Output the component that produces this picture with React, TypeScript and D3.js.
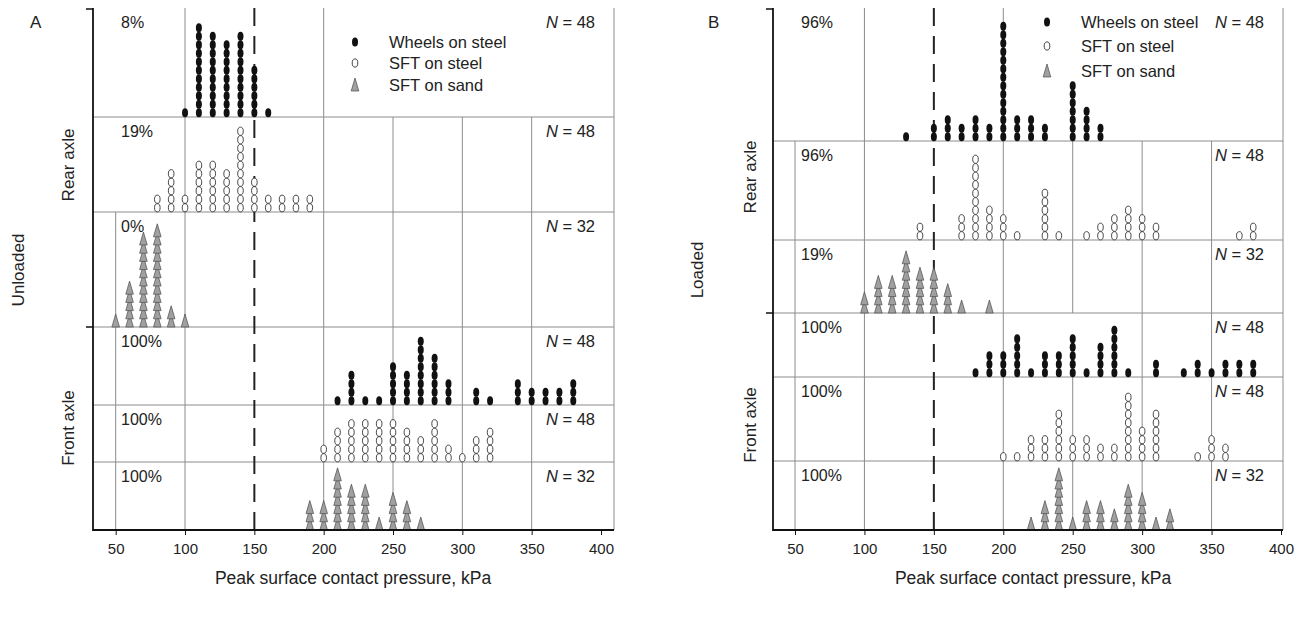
import React, { useEffect, useRef } from 'react';
import * as d3 from 'd3';

// [peak pressure kPa, number of tyres]
type Stack = [number, number][];

const unloadedRearWheels: Stack = [[100, 1], [110, 11], [120, 10], [130, 9], [140, 10], [150, 6], [160, 1]];
const unloadedRearSteel: Stack = [[80, 2], [90, 5], [100, 2], [110, 6], [120, 6], [130, 5], [140, 10], [150, 4], [160, 2], [170, 2], [180, 2], [190, 2]];
const unloadedRearSand: Stack = [[50, 1], [60, 5], [70, 11], [80, 12], [90, 2], [100, 1]];
const unloadedFrontWheels: Stack = [[210, 1], [220, 4], [230, 1], [240, 1], [250, 5], [260, 4], [270, 8], [280, 6], [290, 3], [310, 2], [320, 1], [340, 3], [350, 2], [360, 2], [370, 2], [380, 3]];
const unloadedFrontSteel: Stack = [[200, 2], [210, 4], [220, 5], [230, 5], [240, 5], [250, 5], [260, 4], [270, 3], [280, 5], [290, 2], [300, 1], [310, 3], [320, 4]];
const unloadedFrontSand: Stack = [[190, 3], [200, 3], [210, 7], [220, 5], [230, 5], [240, 1], [250, 4], [260, 3], [270, 1]];

const loadedRearWheels: Stack = [[130, 1], [150, 2], [160, 3], [170, 2], [180, 3], [190, 2], [200, 14], [210, 3], [220, 3], [230, 2], [250, 7], [260, 4], [270, 2]];
const loadedRearSteel: Stack = [[140, 2], [170, 3], [180, 10], [190, 4], [200, 3], [210, 1], [230, 6], [240, 1], [260, 1], [270, 2], [280, 3], [290, 4], [300, 3], [310, 2], [370, 1], [380, 2]];
const loadedRearSand: Stack = [[100, 2], [110, 4], [120, 4], [130, 7], [140, 5], [150, 5], [160, 3], [170, 1], [190, 1]];
const loadedFrontWheels: Stack = [[180, 1], [190, 3], [200, 3], [210, 5], [220, 1], [230, 3], [240, 3], [250, 5], [260, 1], [270, 4], [280, 6], [290, 1], [310, 2], [330, 1], [340, 2], [350, 1], [360, 2], [370, 2], [380, 2]];
const loadedFrontSteel: Stack = [[200, 1], [210, 1], [220, 3], [230, 3], [240, 6], [250, 3], [260, 3], [270, 2], [280, 2], [290, 8], [300, 4], [310, 6], [340, 1], [350, 3], [360, 2]];
const loadedFrontSand: Stack = [[220, 1], [230, 3], [240, 7], [250, 1], [260, 3], [270, 3], [280, 2], [290, 5], [300, 4], [310, 1], [320, 2]];

const seriesNames = ['Wheels on steel', 'SFT on steel', 'SFT on sand'];
const unloadedPercent = ['8%', '19%', '0%', '100%', '100%', '100%'];
const loadedPercent = ['96%', '96%', '19%', '100%', '100%', '100%'];
const unloadedN = [48, 48, 32, 48, 48, 32];
const loadedN = [48, 48, 32, 48, 48, 32];
const tickValues = [50, 100, 150, 200, 250, 300, 350, 400];
const threshold = 150;
const xTitle = 'Peak surface contact pressure, kPa';

const FONT = '"Liberation Sans", Arial, sans-serif';
const kinds = ['wheel', 'steel', 'sand'];

const panels = [
  {
    letter: 'A', cond: 'Unloaded', left: 93, right: 614, x50: 115.7, x400: 601,
    edges: [8, 117, 212, 327, 405, 462, 530],
    stacks: [unloadedRearWheels, unloadedRearSteel, unloadedRearSand, unloadedFrontWheels, unloadedFrontSteel, unloadedFrontSand],
    grid: [[100, 200], [100, 200, 250, 300, 350], [50, 100, 200, 250, 300, 350], [50, 100, 200, 250, 300, 350], [50, 100, 200, 250, 300, 350], [50, 100, 200, 250, 300, 350]],
    pct: unloadedPercent, n: unloadedN,
    letterX: 30, condX: 18, axleX: 68, rearY: 165, frontY: 428, midTick: 327,
    legX: 355, legY: [42, 63, 85], titleX: 353,
  },
  {
    letter: 'B', cond: 'Loaded', left: 773, right: 1283, x50: 795, x400: 1281,
    edges: [8, 141, 240, 313, 377, 461, 530],
    stacks: [loadedRearWheels, loadedRearSteel, loadedRearSand, loadedFrontWheels, loadedFrontSteel, loadedFrontSand],
    grid: [[100, 200], [50, 100, 200, 250, 300, 350], [50, 100, 200, 250, 300, 350], [50, 100, 200, 300, 350], [50, 100, 200, 250, 300, 350], [50, 100, 200, 250, 300, 350]],
    pct: loadedPercent, n: loadedN,
    letterX: 708, condX: 697, axleX: 750, rearY: 177, frontY: 425, midTick: 313,
    legX: 1047, legY: [22, 46, 71], titleX: 1033,
  },
];

const UNIT = 8.5;   // one ellipse per tyre
const TRI_STEP = 8.2;
const TRI_H = 13;

function drawMark(g: any, kind: string, cx: number, cy: number) {
  if (kind === 'wheel') {
    g.append('ellipse').attr('cx', cx).attr('cy', cy).attr('rx', 3).attr('ry', 4.6).attr('fill', '#111')
  } else if (kind === 'steel') {
    g.append('ellipse').attr('cx', cx).attr('cy', cy).attr('rx', 2.8).attr('ry', 4.1)
      .attr('fill', '#fff').attr('stroke', '#333').attr('stroke-width', 0.9)
  } else {
    // cy is the base of the triangle
    g.append('path')
      .attr('d', `M${cx - 3.8},${cy}L${cx + 3.8},${cy}L${cx},${cy - TRI_H}Z`)
      .attr('fill', '#a0a0a0').attr('stroke', '#4a4a4a').attr('stroke-width', 0.7)
  }
}

export default function App() {
  const ref = useRef<SVGSVGElement>(null)

  useEffect(() => {
    const svg = d3.select(ref.current)
    svg.selectAll('*').remove()

    panels.forEach((p) => {
      const x = d3.scaleLinear().domain([50, 400]).range([p.x50, p.x400])
      const g = svg.append('g')
      const top = p.edges[0]
      const bottom = p.edges[p.edges.length - 1]

      // grid lines and row separators
      p.stacks.forEach((stack, r) => {
        const y0 = p.edges[r], y1 = p.edges[r + 1]
        g.selectAll(null).data(p.grid[r]).enter().append('line')
          .attr('x1', (d) => x(d)).attr('x2', (d) => x(d))
          .attr('y1', y0).attr('y2', y1)
          .attr('stroke', '#8c8c8c').attr('stroke-width', 1)
        if (r > 0) {
          g.append('line').attr('x1', p.left).attr('x2', p.right).attr('y1', y0).attr('y2', y0)
            .attr('stroke', '#8c8c8c').attr('stroke-width', 1)
        }
      })
      g.append('line').attr('x1', p.right).attr('x2', p.right).attr('y1', top).attr('y2', bottom)
        .attr('stroke', '#8c8c8c').attr('stroke-width', 1)

      // threshold
      g.append('line').attr('x1', x(threshold)).attr('x2', x(threshold)).attr('y1', top).attr('y2', bottom)
        .attr('stroke', '#222').attr('stroke-width', 2).attr('stroke-dasharray', '18,10')

      // stacks
      p.stacks.forEach((stack, r) => {
        const kind = kinds[r % 3]
        const y1 = p.edges[r + 1]
        const yDot = d3.scaleLinear().domain([0, 1]).range([y1, y1 - UNIT])
        const yTri = d3.scaleLinear().domain([0, 1]).range([y1, y1 - TRI_STEP])
        stack.forEach(([v, count]) => {
          for (let i = 0; i < count; i++) {
            if (kind === 'sand') drawMark(g, kind, x(v), yTri(i))
            else drawMark(g, kind, x(v), yDot(i + 0.5))
          }
        })
        g.append('text').attr('x', p.left + 28).attr('y', p.edges[r] + 20)
          .attr('font-family', FONT).attr('font-size', 16).attr('fill', '#222').text(p.pct[r])
        const nt = g.append('text').attr('x', p.right - 19).attr('y', p.edges[r] + 20)
          .attr('text-anchor', 'end').attr('font-family', FONT).attr('font-size', 16.5).attr('fill', '#222')
        nt.append('tspan').attr('font-style', 'italic').text('N')
        nt.append('tspan').text(' = ' + p.n[r])
      })

      // axes
      g.append('line').attr('x1', p.left).attr('x2', p.left).attr('y1', top).attr('y2', bottom + 1)
        .attr('stroke', '#111').attr('stroke-width', 1.8)
      g.append('line').attr('x1', p.left).attr('x2', p.right).attr('y1', bottom).attr('y2', bottom)
        .attr('stroke', '#111').attr('stroke-width', 1.8)
      ;[top + 1, p.midTick].forEach((yy) => {
        g.append('line').attr('x1', p.left - 7).attr('x2', p.left).attr('y1', yy).attr('y2', yy)
          .attr('stroke', '#111').attr('stroke-width', 1.5)
      })
      const axis = g.append('g').attr('transform', 'translate(0,' + bottom + ')')
        .call(d3.axisBottom(x).tickValues(tickValues).tickSize(5).tickPadding(8))
      axis.select('.domain').remove()
      axis.selectAll('line').attr('stroke', '#111')
      axis.selectAll('text').attr('font-family', FONT).attr('font-size', 15).attr('fill', '#222')

      g.append('text').attr('x', p.titleX).attr('y', 584).attr('text-anchor', 'middle')
        .attr('font-family', FONT).attr('font-size', 17.5).attr('fill', '#222').text(xTitle)

      // side labels
      g.append('text').attr('x', p.letterX).attr('y', 28).attr('font-family', FONT)
        .attr('font-size', 17).attr('fill', '#222').text(p.letter)
      const vLabel = (txt: string, xx: number, yy: number) => {
        g.append('text').attr('transform', `translate(${xx},${yy}) rotate(-90)`).attr('text-anchor', 'middle')
          .attr('dy', '0.35em').attr('font-family', FONT).attr('font-size', 17).attr('fill', '#222').text(txt)
      }
      vLabel(p.cond, p.condX, 270)
      vLabel('Rear axle', p.axleX, p.rearY)
      vLabel('Front axle', p.axleX, p.frontY)

      // legend
      seriesNames.forEach((name, i) => {
        const ly = p.legY[i]
        if (kinds[i] === 'sand') drawMark(g, 'sand', p.legX, ly + 6)
        else drawMark(g, kinds[i], p.legX, ly)
        g.append('text').attr('x', p.legX + 34).attr('y', ly).attr('dy', '0.35em')
          .attr('font-family', FONT).attr('font-size', 16.5).attr('fill', '#222').text(name)
      })
    })
  }, [])

  return (
    <svg ref={ref} width={1308} height={617}
      style={{ position: 'absolute', left: 0, top: 0, display: 'block', background: '#fff' }} />
  )
}
